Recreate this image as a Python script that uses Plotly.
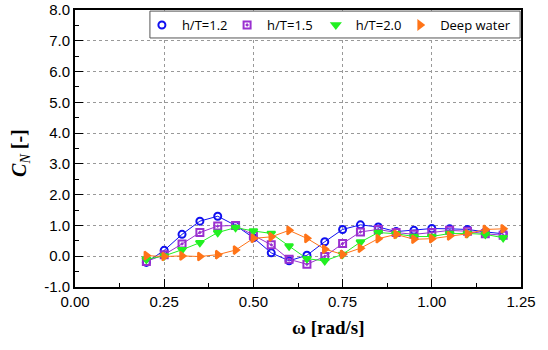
import plotly.graph_objects as go

omega = [0.20, 0.25, 0.30, 0.35, 0.40, 0.45, 0.50, 0.55, 0.60, 0.65, 0.70,
         0.75, 0.80, 0.85, 0.90, 0.95, 1.00, 1.05, 1.10, 1.15, 1.20]
cn_h12 = [-0.20, 0.19, 0.71, 1.14, 1.30, 1.00, 0.60, 0.11, -0.15, 0.03, 0.47,
          0.87, 1.02, 0.95, 0.80, 0.84, 0.90, 0.89, 0.87, 0.79, 0.73]
cn_h15 = [-0.17, 0.05, 0.40, 0.77, 0.98, 1.00, 0.68, 0.37, -0.10, -0.26, -0.01,
          0.41, 0.79, 0.87, 0.77, 0.71, 0.77, 0.84, 0.81, 0.73, 0.68]
cn_h20 = [-0.10, 0.01, 0.21, 0.44, 0.77, 0.93, 0.82, 0.74, 0.33, -0.08, -0.15,
          0.06, 0.46, 0.77, 0.73, 0.64, 0.64, 0.74, 0.74, 0.71, 0.60]
cn_deep = [0.02, -0.01, 0.01, -0.01, 0.05, 0.20, 0.58, 0.63, 0.84, 0.58, 0.23,
           0.06, 0.26, 0.57, 0.71, 0.55, 0.57, 0.66, 0.73, 0.87, 0.89]

y_tickvals = [-1, 0, 1, 2, 3, 4, 5, 6, 7, 8]
y_ticktext = ["-1.0", "0.0", "1.0", "2.0", "3.0", "4.0", "5.0", "6.0", "7.0", "8.0"]

series = [
    ("h/T=1.2", cn_h12, "#1010F0", "circle-open", "legend"),
    ("h/T=1.5", cn_h15, "#9A30D0", "square-open-dot", "legend2"),
    ("h/T=2.0", cn_h20, "#22F022", "triangle-down", "legend3"),
    ("Deep water", cn_deep, "#FF7418", "triangle-right", "legend4"),
]

fig = go.Figure()
for name, vals, col, sym, leg in series:
    mk = dict(symbol=sym, size=7, color=col, line=dict(color=col, width=2))
    fig.add_trace(go.Scatter(
        x=omega, y=vals, name=name, mode="lines+markers", showlegend=False,
        line=dict(color=col, width=1), marker=mk,
    ))
    # marker-only legend entry (legend shows symbol without line)
    fig.add_trace(go.Scatter(
        x=[None], y=[None], name=name, mode="markers", legend=leg,
        marker=mk, showlegend=True,
    ))

axis_common = dict(
    showline=True, linecolor="black", linewidth=2, mirror=True,
    ticks="inside", ticklen=8, tickwidth=1, tickcolor="black",
    showgrid=True, gridcolor="#999999", griddash="dot", gridwidth=1,
    zeroline=False, automargin=False,
    tickfont=dict(family="Liberation Sans", size=15, color="black"),
)

fig.update_xaxes(
    range=[0, 1.25], dtick=0.25, tickformat=".2f",
    minor=dict(dtick=0.125, ticks="inside", ticklen=4, tickcolor="black", showgrid=False),
    **axis_common,
)
fig.update_yaxes(
    range=[-1, 8], tickvals=y_tickvals, ticktext=y_ticktext,
    minor=dict(dtick=0.5, ticks="inside", ticklen=4, tickcolor="black", showgrid=False),
    **axis_common,
)

fig.add_annotation(
    text="<b>ω [rad/s]</b>", xref="paper", yref="paper",
    x=0.567, y=-0.148, xanchor="center", yanchor="middle",
    showarrow=False, font=dict(family="Liberation Serif", size=19, color="black"),
)
fig.add_annotation(
    text="<b><i>C</i></b><i><sub>N</sub></i><b> [-]</b>", xref="paper", yref="paper",
    x=-0.121, y=0.484, xanchor="center", yanchor="middle", textangle=-90,
    showarrow=False, font=dict(family="Liberation Serif", size=20, color="black"),
)

# legend frame
fig.add_shape(
    type="rect", xref="paper", yref="paper",
    x0=0.168, x1=0.998, y0=0.899, y1=0.996,
    line=dict(color="#555555", width=1), fillcolor="white", layer="above",
)

leg_font = dict(family="Open Sans", size=13, color="black")
def leg(xpos):
    return dict(
        orientation="h", x=xpos, y=1.0, xanchor="left", yanchor="top",
        bgcolor="rgba(0,0,0,0)", borderwidth=0, font=leg_font, itemwidth=30,
    )

fig.update_layout(
    width=548, height=350,
    margin=dict(l=75, r=27, t=10, b=63),
    plot_bgcolor="white", paper_bgcolor="white",
    showlegend=True,
    legend=leg(0.150),
    legend2=leg(0.341),
    legend3=leg(0.540),
    legend4=leg(0.729),
)

fig.write_html("out.html")
